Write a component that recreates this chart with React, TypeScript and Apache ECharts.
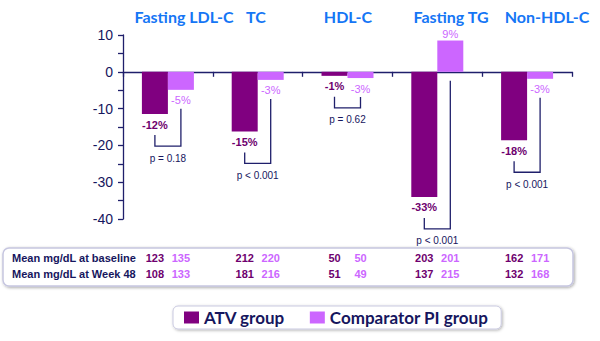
import React, { useEffect, useRef } from 'react';
import * as echarts from 'echarts';

// ---- data ----
const categories = ['Fasting LDL-C', 'TC', 'HDL-C', 'Fasting TG', 'Non-HDL-C'];
// bar heights as drawn in the reference (% change from baseline)
const atvChange = [-11.5, -16.2, -1.1, -34, -18.6];
const comparatorChange = [-4.9, -2.2, -1.7, 8.5, -1.9];
// printed percentage labels
const atvLabels = ['-12%', '-15%', '-1%', '-33%', '-18%'];
const comparatorLabels = ['-5%', '-3%', '-3%', '9%', '-3%'];
const pValues = ['p = 0.18', 'p < 0.001', 'p = 0.62', 'p < 0.001', 'p < 0.001'];
const baselineAtv = [123, 212, 50, 203, 162];
const baselineComparator = [135, 220, 50, 201, 171];
const week48Atv = [108, 181, 51, 137, 132];
const week48Comparator = [133, 216, 49, 215, 168];
const tableRowLabels = ['Mean mg/dL at baseline', 'Mean mg/dL at Week 48'];
const seriesNames = ['ATV group', 'Comparator PI group'];
const yMin = -40;
const yMax = 10;
const yInterval = 5;

// ---- layout / style ----
const titleX = [184, 256, 348, 451, 547];
const NAVY = '#1f1f6b';
const NAVY_TEXT = '#16165e';
const ATV_COLOR = '#800080';
const ATV_TEXT = '#6e006e';
const COMP_COLOR = '#cc66ff';
const TITLE_BLUE = '#1576f5';
const SANS = "'Liberation Sans', Arial, sans-serif";
const BAR_W = 26;
const ROW_Y = [258, 274];

export default function App() {
  const ref = useRef<HTMLDivElement>(null);

  useEffect(() => {
    if (!ref.current) return;
    const chart = echarts.init(ref.current, null, { renderer: 'svg' });

    const half = BAR_W / 2;

    const option: any = {
      animation: false,
      backgroundColor: '#ffffff',
      grid: { left: 123, right: 28, top: 35, bottom: 122, containLabel: false },
      legend: {
        data: seriesNames,
        left: 173,
        top: 306,
        icon: 'rect',
        itemWidth: 15,
        itemHeight: 12,
        itemGap: 25,
        padding: [3, 13, 3, 11],
        borderColor: '#c9c9e0',
        borderWidth: 1,
        borderRadius: 5,
        backgroundColor: '#ffffff',
        shadowBlur: 3,
        shadowColor: 'rgba(0,0,0,0.3)',
        shadowOffsetX: 1,
        shadowOffsetY: 1,
        selectedMode: false,
        textStyle: {
          fontFamily: 'Lato',
          fontWeight: 'bold',
          fontSize: 17,
          color: NAVY_TEXT,
        },
      },
      xAxis: {
        type: 'category',
        data: categories,
        axisLine: { show: true, onZero: true, lineStyle: { color: NAVY, width: 1.3 } },
        axisTick: { show: true, length: 5, interval: 0, lineStyle: { color: NAVY, width: 1.3 } },
        axisLabel: { show: false },
        splitLine: { show: false },
      },
      yAxis: {
        type: 'value',
        min: yMin,
        max: yMax,
        interval: yInterval,
        axisLine: { show: true, lineStyle: { color: NAVY, width: 1.3 } },
        axisTick: { show: true, length: 5, lineStyle: { color: NAVY, width: 1.3 } },
        splitLine: { show: false },
        axisLabel: {
          formatter: (v: number) => (v % 10 === 0 ? String(v) : ''),
          color: NAVY_TEXT,
          fontSize: 14,
          fontFamily: SANS,
          margin: 10,
        },
      },
      graphic: [
        {
          type: 'rect',
          z: 0,
          shape: { x: 3, y: 248, width: 570, height: 38, r: 6 },
          style: {
            fill: '#ffffff',
            stroke: '#c6c6e0',
            lineWidth: 1.5,
            shadowBlur: 3,
            shadowColor: 'rgba(0,0,0,0.35)',
            shadowOffsetX: 1,
            shadowOffsetY: 1,
          },
        },
        ...tableRowLabels.map((t, r) => ({
          type: 'text',
          z: 5,
          style: {
            text: t,
            x: 12,
            y: ROW_Y[r],
            verticalAlign: 'middle',
            fill: NAVY_TEXT,
            fontFamily: SANS,
            fontWeight: 'bold',
            fontSize: 11,
          },
        })),
        ...categories.map((c, i) => ({
          type: 'text',
          z: 5,
          style: {
            text: c,
            x: titleX[i],
            y: 16,
            align: 'center',
            verticalAlign: 'middle',
            fill: TITLE_BLUE,
            fontFamily: 'Lato',
            fontWeight: 'bold',
            fontSize: 16,
          },
        })),
      ],
      series: [
        {
          name: seriesNames[0],
          type: 'bar',
          data: atvChange,
          barWidth: BAR_W,
          barGap: '0%',
          itemStyle: { color: ATV_COLOR },
          label: {
            show: true,
            position: 'outside',
            formatter: (p: any) => atvLabels[p.dataIndex],
            color: ATV_TEXT,
            fontWeight: 'bold',
            fontSize: 11,
            fontFamily: SANS,
          },
        },
        {
          name: seriesNames[1],
          type: 'bar',
          data: comparatorChange.map((v) => (v > 0 ? { value: v, label: { distance: 1 } } : v)),
          barWidth: BAR_W,
          barGap: '0%',
          itemStyle: { color: COMP_COLOR },
          label: {
            show: true,
            position: 'outside',
            formatter: (p: any) => comparatorLabels[p.dataIndex],
            color: COMP_COLOR,
            fontSize: 11,
            fontFamily: SANS,
          },
        },
        {
          name: 'brackets',
          type: 'custom',
          silent: true,
          clip: false,
          data: categories.map((_, i) => [i, atvChange[i], comparatorChange[i]]),
          encode: { x: 0, y: 1 },
          renderItem: (params: any, api: any) => {
            const i = api.value(0);
            const base = api.coord([i, 0]);
            const xa = base[0] - half;
            const xc = base[0] + half;
            const ya = api.coord([i, api.value(1)])[1];
            const comp = api.value(2);
            const yc = api.coord([i, comp])[1];
            const startA = ya + 21;
            const yb = ya + 32;
            const startC = comp >= 0 ? base[1] + 9 : yc + 19;
            return {
              type: 'group',
              children: [
                {
                  type: 'polyline',
                  shape: { points: [[xa, startA], [xa, yb], [xc, yb], [xc, startC]] },
                  style: { stroke: NAVY, lineWidth: 1.3, fill: null },
                },
                {
                  type: 'text',
                  style: {
                    text: pValues[params.dataIndex],
                    x: (xa + xc) / 2,
                    y: yb + 12,
                    align: 'center',
                    verticalAlign: 'middle',
                    fill: NAVY_TEXT,
                    fontFamily: SANS,
                    fontSize: 10,
                  },
                },
              ],
            };
          },
        },
        {
          name: 'table',
          type: 'custom',
          silent: true,
          clip: false,
          z: 10,
          data: categories.map((_, i) => [i, 0]),
          encode: { x: 0, y: 1 },
          renderItem: (params: any, api: any) => {
            const i = api.value(0);
            const base = api.coord([i, 0]);
            const xa = base[0] - half;
            const xc = base[0] + half;
            const idx = params.dataIndex;
            const cell = (text: string, x: number, y: number, atv: boolean) => ({
              type: 'text',
              style: {
                text,
                x,
                y,
                align: 'center',
                verticalAlign: 'middle',
                fill: atv ? ATV_TEXT : COMP_COLOR,
                fontFamily: SANS,
                fontWeight: 'bold',
                fontSize: 11,
              },
            });
            return {
              type: 'group',
              children: [
                cell(String(baselineAtv[idx]), xa, ROW_Y[0], true),
                cell(String(baselineComparator[idx]), xc, ROW_Y[0], false),
                cell(String(week48Atv[idx]), xa, ROW_Y[1], true),
                cell(String(week48Comparator[idx]), xc, ROW_Y[1], false),
              ],
            };
          },
        },
      ],
    };

    chart.setOption(option);
    return () => chart.dispose();
  }, []);

  return (
    <div
      ref={ref}
      style={{ position: 'fixed', left: 0, top: 0, width: 600, height: 341, background: '#ffffff' }}
    />
  );
}
